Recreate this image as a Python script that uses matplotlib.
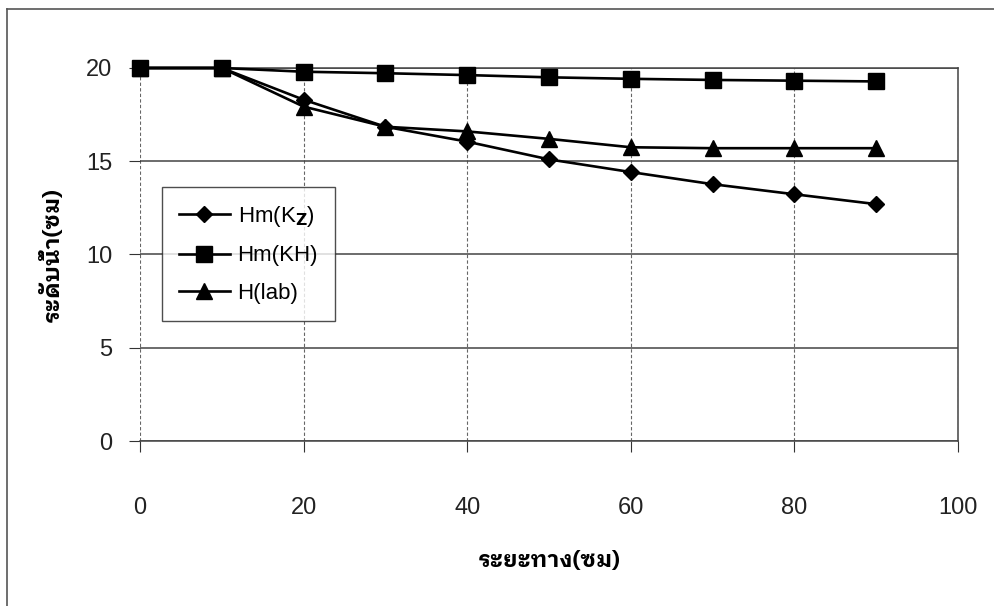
import matplotlib
matplotlib.use("Agg")
import matplotlib.pyplot as plt
from matplotlib.lines import Line2D

# ระยะทาง (ซม) และระดับน้ำ (ซม)
distance = [0, 10, 20, 30, 40, 50, 60, 70, 80, 90]
hm_kz = [20, 20, 18.3, 16.85, 16.05, 15.1, 14.42, 13.77, 13.23, 12.7]
hm_kh = [20, 20, 19.8, 19.72, 19.62, 19.5, 19.42, 19.36, 19.32, 19.28]
h_lab = [20, 20, 17.93, 16.85, 16.6, 16.2, 15.75, 15.7, 15.7, 15.7]

labels = [r"Hm(K$_\mathbf{Z}$)", "Hm(KH)", "H(lab)"]
x_ticks = [0, 20, 40, 60, 80, 100]
y_ticks = [0, 5, 10, 15, 20]

thai = ["IBM Plex Sans Thai Looped", "Noto Sans Thai Looped", "DejaVu Sans"]
plt.rcParams["font.family"] = ["Liberation Sans", "DejaVu Sans"]

fig = plt.figure(figsize=(9.94, 6.06), dpi=100)
ax = fig.add_axes([140 / 994, 1 - 441 / 606, 818 / 994, 373 / 606])

style = dict(color="black", lw=1.9, clip_on=False, zorder=3)
ax.plot(distance, hm_kz, marker="D", ms=8, label=labels[0], **style)
ax.plot(distance, hm_kh, marker="s", ms=11, label=labels[1], **style)
ax.plot(distance, h_lab, marker="^", ms=11, label=labels[2], **style)

ax.set_xlim(0, 100)
ax.set_ylim(0, 20)
ax.set_xticks(x_ticks)
ax.set_yticks(y_ticks)
ax.tick_params(axis="both", direction="out", length=8, width=0.8, colors="#333",
               labelsize=17, labelcolor="#222")
ax.tick_params(axis="x", pad=32)
ax.tick_params(axis="y", pad=12)

# เส้นกริด: แนวนอนเส้นทึบ แนวตั้งเส้นประ
ax.grid(axis="y", color="#444", lw=1.1, ls="-")
ax.grid(axis="x", color="#666", lw=0.8, ls=(0, (3, 2)))
ax.set_axisbelow(True)
ax.spines["left"].set_visible(False)
for s in ["top", "right", "bottom"]:
    ax.spines[s].set_color("#444")
    ax.spines[s].set_linewidth(1.1)

ax.set_xlabel("ระยะทาง(ซม)", family=thai, weight="bold", fontsize=16.5)
ax.set_ylabel("ระดับน้ำ(ซม)", family=thai, weight="bold", fontsize=16.5)
ax.xaxis.set_label_coords(0.5, (441 - 560) / 373)
ax.xaxis.label.set_va("center")
ax.yaxis.set_label_coords((51 - 140) / 818, 0.5)
ax.yaxis.label.set_va("center")

leg = ax.legend(loc="upper left", bbox_to_anchor=(22 / 818, (441 - 187) / 373),
                fontsize=16, frameon=True, fancybox=False, edgecolor="#222",
                handlelength=2.3, handletextpad=0.35, labelspacing=0.75,
                borderpad=0.75, borderaxespad=0)
leg.get_frame().set_linewidth(1.0)

# กรอบรอบนอกของรูป
fig.add_artist(Line2D([7 / 994, 1], [1 - 9 / 606, 1 - 9 / 606], color="#555", lw=1.2))
fig.add_artist(Line2D([7 / 994, 7 / 994], [0, 1 - 9 / 606], color="#555", lw=1.2))

fig.savefig("out.png", dpi=100, facecolor="white")
